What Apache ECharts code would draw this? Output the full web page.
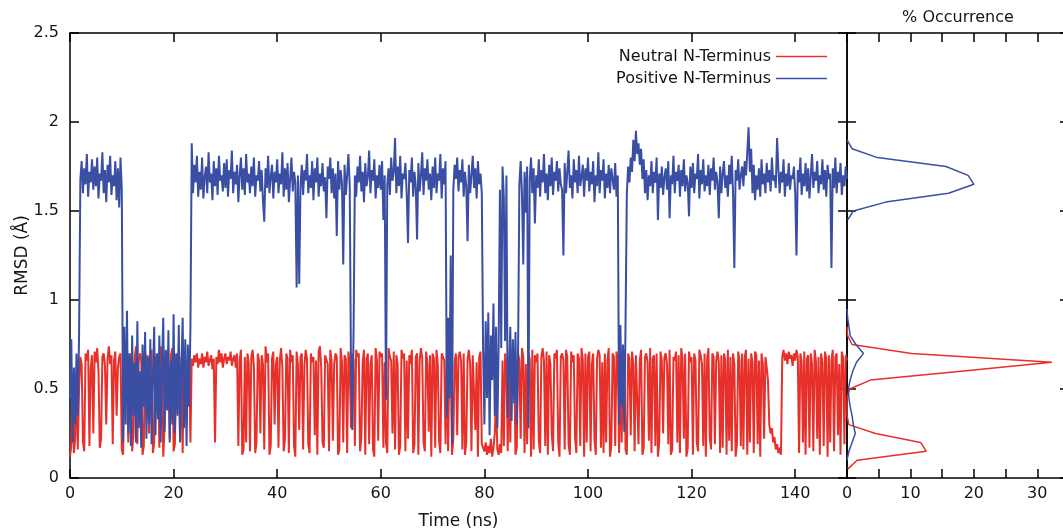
<!DOCTYPE html>
<html>
<head>
<meta charset="utf-8">
<script src="https://cdn.jsdelivr.net/npm/echarts@6/dist/echarts.min.js"></script>
<style>html,body{margin:0;padding:0;background:#fff}#c{width:1063px;height:531px}</style>
</head>
<body>
<div id="c"></div>
<script>
// sampling interval of the trajectory (ns)
const timeStep = 0.25;
const timeTicks = [0, 20, 40, 60, 80, 100, 120, 140];
const rmsdTicks = [0, 0.5, 1, 1.5, 2, 2.5];
const occurrenceTicks = [0, 10, 20, 30];
const seriesNames = ['Neutral N-Terminus', 'Positive N-Terminus'];

// RMSD (Å), Neutral N-Terminus, one row per 5 ns
const neutralRmsd = [
0.12,0.18,0.55,0.14,0.22,0.6,0.16,0.5,0.68,0.64,0.2,0.15,0.7,0.66,0.72,0.18,0.62,0.69,0.25,0.71,
0.65,0.73,0.6,0.17,0.22,0.68,0.7,0.63,0.3,0.67,0.74,0.64,0.69,0.19,0.66,0.71,0.35,0.62,0.68,0.7,
0.16,0.13,0.66,0.72,0.64,0.2,0.7,0.62,0.15,0.24,0.68,0.74,0.19,0.65,0.7,0.67,0.13,0.18,0.71,0.63,
0.69,0.25,0.66,0.72,0.14,0.2,0.68,0.63,0.7,0.17,0.74,0.65,0.12,0.28,0.67,0.71,0.64,0.22,0.69,0.73,
0.15,0.19,0.65,0.7,0.62,0.21,0.68,0.14,0.71,0.66,0.3,0.69,0.64,0.2,0.67,0.63,0.69,0.65,0.7,0.62,
0.67,0.64,0.7,0.62,0.68,0.65,0.71,0.63,0.66,0.69,0.61,0.67,0.2,0.68,0.64,0.72,0.65,0.7,0.62,0.67,
0.7,0.64,0.68,0.66,0.71,0.63,0.67,0.69,0.62,0.7,0.18,0.66,0.72,0.13,0.16,0.68,0.2,0.7,0.65,0.15,
0.68,0.72,0.63,0.14,0.2,0.7,0.66,0.25,0.69,0.64,0.16,0.74,0.65,0.7,0.13,0.18,0.67,0.71,0.3,0.64,
0.68,0.17,0.66,0.73,0.62,0.15,0.22,0.7,0.67,0.14,0.72,0.65,0.69,0.18,0.12,0.71,0.64,0.27,0.68,0.7,
0.16,0.63,0.72,0.67,0.19,0.14,0.7,0.65,0.68,0.24,0.66,0.13,0.71,0.74,0.62,0.2,0.17,0.69,0.7,0.64,
0.15,0.72,0.66,0.21,0.64,0.7,0.68,0.13,0.16,0.73,0.65,0.2,0.69,0.67,0.14,0.71,0.63,0.28,0.7,0.66,
0.18,0.72,0.68,0.7,0.15,0.23,0.65,0.72,0.13,0.67,0.7,0.19,0.64,0.69,0.16,0.12,0.73,0.66,0.21,0.71,
0.68,0.7,0.17,0.65,0.2,0.14,0.73,0.68,0.66,0.25,0.71,0.16,0.69,0.64,0.13,0.18,0.72,0.67,0.7,0.15,
0.66,0.22,0.69,0.64,0.72,0.14,0.19,0.68,0.7,0.13,0.66,0.73,0.67,0.2,0.15,0.71,0.65,0.26,0.69,0.12,
0.7,0.67,0.17,0.72,0.64,0.21,0.14,0.7,0.68,0.66,0.19,0.71,0.15,0.69,0.73,0.13,0.22,0.65,0.7,0.24,
0.68,0.71,0.66,0.16,0.7,0.13,0.2,0.67,0.72,0.64,0.15,0.69,0.7,0.27,0.65,0.12,0.68,0.71,0.19,0.2,
0.15,0.2,0.13,0.18,0.14,0.22,0.12,0.17,0.25,0.45,0.16,0.13,0.19,0.14,0.66,0.18,0.7,0.64,0.15,0.68,
0.2,0.71,0.65,0.69,0.13,0.17,0.7,0.66,0.22,0.73,0.68,0.14,0.64,0.19,0.7,0.67,0.12,0.72,0.16,0.69,
0.65,0.7,0.21,0.14,0.68,0.73,0.66,0.18,0.71,0.13,0.69,0.64,0.25,0.15,0.7,0.67,0.72,0.2,0.12,0.68,
0.7,0.66,0.16,0.72,0.68,0.19,0.13,0.71,0.65,0.69,0.23,0.14,0.7,0.67,0.18,0.73,0.66,0.12,0.7,0.2,
0.68,0.71,0.15,0.64,0.7,0.22,0.13,0.67,0.72,0.69,0.17,0.65,0.14,0.7,0.2,0.66,0.73,0.12,0.18,0.7,
0.68,0.18,0.71,0.66,0.14,0.69,0.2,0.65,0.72,0.16,0.13,0.7,0.67,0.24,0.71,0.64,0.15,0.69,0.7,0.19,
0.66,0.72,0.13,0.17,0.68,0.7,0.65,0.21,0.73,0.14,0.67,0.69,0.18,0.7,0.12,0.2,0.71,0.66,0.25,0.68,
0.7,0.64,0.19,0.72,0.13,0.16,0.68,0.66,0.71,0.2,0.69,0.14,0.73,0.67,0.22,0.7,0.12,0.17,0.71,0.65,
0.68,0.13,0.7,0.66,0.2,0.15,0.72,0.69,0.64,0.18,0.7,0.12,0.67,0.73,0.23,0.16,0.7,0.68,0.19,0.66,
0.71,0.65,0.14,0.69,0.17,0.7,0.66,0.13,0.72,0.21,0.68,0.15,0.7,0.64,0.12,0.19,0.71,0.66,0.18,0.7,
0.16,0.68,0.72,0.13,0.67,0.2,0.7,0.65,0.14,0.71,0.69,0.19,0.66,0.12,0.7,0.64,0.22,0.68,0.62,0.55,
0.3,0.25,0.28,0.2,0.23,0.16,0.19,0.14,0.17,0.13,0.68,0.72,0.66,0.7,0.64,0.71,0.67,0.69,0.63,0.7,
0.66,0.72,0.68,0.14,0.7,0.65,0.2,0.71,0.13,0.67,0.69,0.17,0.7,0.64,0.15,0.72,0.66,0.22,0.68,0.13,
0.7,0.65,0.18,0.71,0.67,0.12,0.69,0.2,0.66,0.72,0.15,0.68,0.7,0.24,0.64,0.13,0.71,0.67,0.19,0.69,
0.66
];

// RMSD (Å), Positive N-Terminus, one row per 5 ns
const positiveRmsd = [
0.45,0.78,0.2,0.62,0.3,0.7,0.35,0.8,1.68,1.78,1.6,1.74,1.65,1.82,1.58,1.72,1.66,1.79,1.62,1.75,
1.64,1.8,1.57,1.71,1.67,1.83,1.6,1.73,1.55,1.76,1.66,1.81,1.59,1.7,1.64,1.78,1.56,1.74,1.52,1.8,
1.62,0.2,0.85,0.3,0.94,0.25,0.7,0.18,0.8,0.35,0.65,0.2,0.88,0.28,0.6,0.17,0.75,0.4,0.82,0.22,
0.68,0.3,0.78,0.19,0.55,0.85,0.24,0.7,0.33,0.8,0.2,0.6,0.9,0.26,0.72,0.38,0.83,0.2,0.66,0.3,
0.92,0.25,0.7,0.35,0.86,0.2,0.62,0.9,0.28,0.78,0.18,0.75,0.4,0.85,1.88,1.6,1.76,1.66,1.81,1.58,
1.72,1.62,1.8,1.57,1.69,1.75,1.6,1.83,1.66,1.71,1.56,1.78,1.64,1.74,1.59,1.81,1.67,1.7,1.61,1.77,
1.63,1.79,1.58,1.73,1.68,1.84,1.6,1.72,1.65,1.76,1.55,1.7,1.8,1.62,1.74,1.59,1.82,1.66,1.71,1.6,
1.75,1.64,1.8,1.58,1.7,1.67,1.78,1.61,1.73,1.56,1.44,1.74,1.63,1.81,1.6,1.69,1.76,1.57,1.72,1.66,
1.79,1.6,1.71,1.65,1.83,1.58,1.74,1.62,1.77,1.55,1.68,1.8,1.61,1.72,1.66,1.07,1.7,1.09,1.64,1.76,
1.59,1.73,1.67,1.82,1.6,1.7,1.63,1.78,1.56,1.74,1.66,1.8,1.58,1.71,1.64,1.77,1.61,1.69,1.46,1.75,
1.68,1.8,1.6,1.74,1.57,1.71,1.36,1.78,1.62,1.73,1.66,1.2,1.76,1.59,1.7,1.82,1.64,0.6,0.27,0.85,
1.7,1.58,1.75,1.66,1.81,1.61,1.72,1.55,1.77,1.64,1.69,1.84,1.6,1.73,1.67,1.79,1.57,1.7,1.63,1.76,
1.62,1.78,1.45,1.7,0.44,1.65,1.74,1.59,1.8,1.67,1.72,1.91,1.6,1.75,1.64,1.81,1.57,1.71,1.68,1.77,
1.6,1.32,1.73,1.66,1.8,1.58,1.72,1.64,1.34,1.77,1.61,1.7,1.83,1.59,1.74,1.67,1.79,1.62,1.71,1.56,
1.75,1.63,1.8,1.6,1.71,1.67,1.82,1.57,1.74,1.65,1.78,0.34,0.9,0.45,1.25,0.19,1.62,1.76,1.68,1.8,
1.61,1.73,1.66,1.79,1.58,1.72,1.64,1.33,1.76,1.6,1.7,1.81,1.63,1.74,1.57,1.78,1.65,1.71,1.6,0.72,
0.3,0.88,0.45,0.93,0.24,0.8,0.55,0.98,0.35,0.85,0.28,0.75,1.62,0.73,1.75,1.58,0.77,1.7,0.34,0.6,
0.85,0.32,0.78,0.42,0.82,0.3,0.7,1.65,1.78,1.6,1.2,1.72,1.49,1.75,0.28,1.68,1.8,1.6,1.74,1.43,
1.7,1.63,1.79,1.58,1.73,1.66,1.82,1.6,1.71,1.56,1.76,1.64,1.8,1.59,1.72,1.67,1.78,1.61,1.74,1.65,
1.62,1.25,1.77,1.6,1.72,1.84,1.63,1.7,1.57,1.79,1.66,1.73,1.6,1.81,1.64,1.69,1.76,1.58,1.74,1.67,
1.8,1.61,1.72,1.65,1.78,1.55,1.7,1.64,1.83,1.6,1.73,1.67,1.79,1.57,1.71,1.63,1.76,1.6,1.74,1.68,
1.62,1.77,1.58,1.7,0.3,0.86,0.4,0.75,0.26,0.88,1.6,1.75,1.66,1.8,1.72,1.9,1.78,1.95,1.82,1.88,
1.76,1.85,1.68,1.79,1.6,1.73,1.56,1.7,1.64,1.78,1.6,1.72,1.66,1.8,1.45,1.71,1.63,1.75,1.59,1.69,
1.74,1.62,1.78,1.46,1.7,1.65,1.81,1.6,1.72,1.67,1.76,1.58,1.73,1.64,1.79,1.61,1.7,1.66,1.47,1.75,
1.63,1.77,1.6,1.71,1.68,1.82,1.57,1.73,1.65,1.79,1.61,1.7,1.64,1.76,1.59,1.74,1.67,1.8,1.62,1.72,
1.66,1.46,1.75,1.6,1.71,1.78,1.63,1.7,1.58,1.76,1.65,1.81,1.6,1.18,1.73,1.67,1.79,1.62,1.7,1.75,
1.64,1.78,1.7,1.83,1.97,1.72,1.85,1.6,1.76,1.56,1.7,1.62,1.74,1.58,1.79,1.65,1.71,1.6,1.77,1.66,
1.73,1.61,1.8,1.67,1.7,1.63,1.91,1.74,1.6,1.72,1.66,1.79,1.58,1.71,1.64,1.77,1.62,1.7,1.68,1.75,
1.6,1.25,1.73,1.66,1.8,1.59,1.71,1.64,1.77,1.61,1.74,1.57,1.7,1.82,1.63,1.72,1.67,1.78,1.6,1.7,
1.65,1.79,1.62,1.73,1.58,1.76,1.68,1.71,1.18,1.74,1.63,1.8,1.6,1.72,1.66,1.77,1.59,1.7,1.64,1.75,
1.68
];

// histogram: RMSD bin centres (Å) and % occurrence
const histBins = [0.05,0.1,0.15,0.2,0.25,0.3,0.35,0.4,0.45,0.5,0.55,0.6,0.65,0.7,0.75,0.8,0.85,0.9,0.95,1.0,
  1.05,1.1,1.15,1.2,1.25,1.3,1.35,1.4,1.45,1.5,1.55,1.6,1.65,1.7,1.75,1.8,1.85,1.9,1.95];
const neutralPct = [0.1,1.6,12.5,11.6,4.5,0.3,0,0,0,0.4,3.7,18,32.3,10.2,0.8,0.1,0,null,null,null,
  null,null,null,null,null,null,null,null,null,null,null,null,null,null,null,null,null,null,null];
const positivePct = [null,0,0.3,0.8,1.3,1.0,0.8,0.5,0.3,0.2,0.5,0.9,1.5,2.6,1.4,0.5,0.3,0.1,0,null,
  null,null,null,null,null,null,null,null,0.1,1.0,6.1,16,20,19.1,15.6,4.8,0.8,0,null];

const RED = '#e8302a';
const BLUE = '#3a4fa4';
const FONT = 'DejaVu Sans';
const TXT = '#151515';

const neutralData = neutralRmsd.map((v, i) => [i * timeStep, v]);
const positiveData = positiveRmsd.map((v, i) => [i * timeStep, v]);
const neutralHist = histBins.map((b, i) => [neutralPct[i], b]);
const positiveHist = histBins.map((b, i) => [positivePct[i], b]);

const axisLine = { show: true, onZero: false, lineStyle: { color: '#000', width: 1.5 } };
const tick = { show: true, inside: true, length: 9, lineStyle: { color: '#000', width: 1.5 } };
const lbl = { fontFamily: FONT, fontSize: 16, color: TXT };
const nameLbl = { fontFamily: FONT, fontSize: 17, color: TXT };

const chart = echarts.init(document.getElementById('c'), null, { renderer: 'canvas' });
chart.setOption({
  animation: false,
  backgroundColor: '#fff',
  grid: [
    { left: 70, top: 33, width: 777, height: 445, containLabel: false, outerBoundsMode: 'none' },
    { left: 847, top: 33, width: 222, height: 445, containLabel: false, outerBoundsMode: 'none' }
  ],
  legend: {
    data: seriesNames,
    orient: 'vertical',
    right: 231, top: 43,
    align: 'right',
    icon: 'rect',
    itemWidth: 51, itemHeight: 1.6, itemGap: 5,
    textStyle: { fontFamily: FONT, fontSize: 16, color: TXT, lineHeight: 17 },
    selectedMode: false
  },
  xAxis: [
    { gridIndex: 0, type: 'value', min: 0, max: 150, interval: 20, position: 'bottom',
      axisLine, axisTick: tick, splitLine: { show: false },
      axisLabel: Object.assign({ margin: 8, showMaxLabel: false,
        formatter: v => timeTicks.includes(v) ? String(v) : '' }, lbl),
      name: 'Time (ns)', nameLocation: 'middle', nameGap: 35, nameMoveOverlap: false, nameTextStyle: nameLbl },
    { gridIndex: 0, type: 'value', min: 0, max: 150, interval: 20, position: 'top',
      axisLine, axisTick: tick, splitLine: { show: false }, axisLabel: { show: false } },
    { gridIndex: 1, type: 'value', min: 0, max: 35, interval: 5, position: 'bottom',
      axisLine, axisTick: tick, splitLine: { show: false },
      axisLabel: Object.assign({ margin: 8, showMaxLabel: false,
        formatter: v => occurrenceTicks.includes(v) ? String(v) : '' }, lbl) },
    { gridIndex: 1, type: 'value', min: 0, max: 35, interval: 5, position: 'top',
      axisLine, axisTick: tick, splitLine: { show: false }, axisLabel: { show: false },
      name: '% Occurrence', nameLocation: 'middle', nameGap: 7, nameMoveOverlap: false, nameTextStyle: lbl }
  ],
  yAxis: [
    { gridIndex: 0, type: 'value', min: 0, max: 2.5, interval: 0.5, position: 'left',
      axisLine, axisTick: tick, splitLine: { show: false },
      axisLabel: Object.assign({ margin: 11,
        formatter: v => rmsdTicks.includes(v) ? String(v) : '' }, lbl),
      name: 'RMSD (Å)', nameLocation: 'middle', nameGap: 39, nameRotate: 90, nameMoveOverlap: false, nameTextStyle: nameLbl },
    { gridIndex: 0, type: 'value', min: 0, max: 2.5, interval: 0.5, position: 'right',
      axisLine, axisTick: tick, splitLine: { show: false }, axisLabel: { show: false } },
    { gridIndex: 1, type: 'value', min: 0, max: 2.5, interval: 0.5, position: 'left',
      axisLine, axisTick: tick, splitLine: { show: false }, axisLabel: { show: false } },
    { gridIndex: 1, type: 'value', min: 0, max: 2.5, interval: 0.5, position: 'right',
      axisLine, axisTick: tick, splitLine: { show: false }, axisLabel: { show: false } }
  ],
  series: [
    { name: seriesNames[0], type: 'line', xAxisIndex: 0, yAxisIndex: 0, data: neutralData,
      showSymbol: false, symbol: 'none', color: RED, lineStyle: { color: RED, width: 2 }, z: 2 },
    { name: seriesNames[1], type: 'line', xAxisIndex: 0, yAxisIndex: 0, data: positiveData,
      showSymbol: false, symbol: 'none', color: BLUE, lineStyle: { color: BLUE, width: 2 }, z: 3 },
    { name: seriesNames[0], type: 'line', xAxisIndex: 2, yAxisIndex: 2, data: neutralHist,
      showSymbol: false, symbol: 'none', color: RED, lineStyle: { color: RED, width: 1.5 }, z: 2 },
    { name: seriesNames[1], type: 'line', xAxisIndex: 2, yAxisIndex: 2, data: positiveHist,
      showSymbol: false, symbol: 'none', color: BLUE, lineStyle: { color: BLUE, width: 1.5 }, z: 3 }
  ]
});
</script>
</body>
</html>
